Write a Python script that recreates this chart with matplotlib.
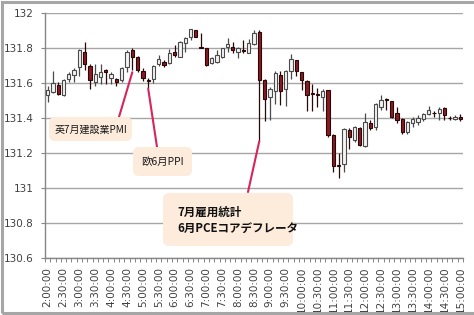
import matplotlib
matplotlib.use("Agg")
import matplotlib.pyplot as plt
from matplotlib.patches import FancyBboxPatch, Rectangle

# 10-minute USD/JPY candles (open, high, low, close)
opens = [131.531, 131.548, 131.588, 131.531, 131.627, 131.646, 131.694, 131.777, 131.700, 131.608,
         131.637, 131.675, 131.633, 131.623, 131.617, 131.694, 131.790, 131.752, 131.671, 131.617,
         131.627, 131.710, 131.723, 131.717, 131.781, 131.752, 131.829, 131.867, 131.902, 131.806,
         131.800, 131.717, 131.723, 131.748, 131.806, 131.810, 131.781, 131.790, 131.775, 131.823,
         131.894, 131.619, 131.523, 131.558, 131.648, 131.567, 131.673, 131.731, 131.663, 131.614,
         131.542, 131.538, 131.521, 131.560, 131.303, 131.132, 131.139, 131.332, 131.278, 131.342,
         131.242, 131.375, 131.352, 131.467, 131.512, 131.498, 131.429, 131.394, 131.323, 131.375,
         131.381, 131.394, 131.425, 131.432, 131.429, 131.458, 131.402, 131.394, 131.410]
highs = [131.583, 131.669, 131.608, 131.625, 131.665, 131.685, 131.794, 131.838, 131.710, 131.708,
         131.708, 131.679, 131.665, 131.633, 131.694, 131.790, 131.800, 131.756, 131.685, 131.633,
         131.704, 131.760, 131.733, 131.794, 131.819, 131.844, 131.867, 131.913, 131.906, 131.887,
         131.804, 131.752, 131.790, 131.804, 131.858, 131.838, 131.810, 131.848, 131.852, 131.906,
         131.904, 131.625, 131.577, 131.673, 131.673, 131.677, 131.769, 131.735, 131.665, 131.619,
         131.598, 131.575, 131.569, 131.563, 131.313, 131.200, 131.342, 131.342, 131.356, 131.348,
         131.429, 131.390, 131.487, 131.531, 131.515, 131.500, 131.463, 131.400, 131.387, 131.410,
         131.419, 131.433, 131.468, 131.444, 131.464, 131.464, 131.414, 131.419, 131.425]
lows = [131.496, 131.546, 131.531, 131.527, 131.608, 131.608, 131.640, 131.675, 131.569, 131.583,
        131.598, 131.598, 131.598, 131.583, 131.608, 131.665, 131.675, 131.665, 131.613, 131.575,
        131.604, 131.700, 131.694, 131.713, 131.752, 131.748, 131.781, 131.848, 131.863, 131.800,
        131.700, 131.710, 131.717, 131.742, 131.781, 131.775, 131.742, 131.771, 131.771, 131.819,
        131.269, 131.385, 131.388, 131.480, 131.477, 131.471, 131.625, 131.644, 131.560, 131.444,
        131.444, 131.463, 131.444, 131.294, 131.091, 131.058, 131.091, 131.226, 131.265, 131.242,
        131.236, 131.332, 131.332, 131.448, 131.448, 131.400, 131.371, 131.313, 131.313, 131.352,
        131.361, 131.386, 131.419, 131.410, 131.390, 131.390, 131.390, 131.390, 131.386]
closes = [131.563, 131.603, 131.537, 131.621, 131.656, 131.675, 131.790, 131.710, 131.621, 131.652,
          131.665, 131.665, 131.656, 131.608, 131.690, 131.781, 131.752, 131.675, 131.633, 131.612,
          131.698, 131.740, 131.704, 131.771, 131.762, 131.838, 131.858, 131.910, 131.867, 131.802,
          131.704, 131.742, 131.762, 131.800, 131.825, 131.790, 131.800, 131.785, 131.829, 131.890,
          131.619, 131.510, 131.567, 131.658, 131.558, 131.673, 131.740, 131.673, 131.617, 131.532,
          131.538, 131.535, 131.556, 131.303, 131.130, 131.128, 131.338, 131.294, 131.352, 131.245,
          131.381, 131.342, 131.483, 131.502, 131.502, 131.410, 131.390, 131.323, 131.381, 131.394,
          131.400, 131.425, 131.448, 131.428, 131.452, 131.419, 131.399, 131.410, 131.394]

time_labels = ["2:00:00", "2:30:00", "3:00:00", "3:30:00", "4:00:00", "4:30:00", "5:00:00",
               "5:30:00", "6:00:00", "6:30:00", "7:00:00", "7:30:00", "8:00:00", "8:30:00",
               "9:00:00", "9:30:00", "10:00:00", "10:30:00", "11:00:00", "11:30:00", "12:00:00",
               "12:30:00", "13:00:00", "13:30:00", "14:00:00", "14:30:00", "15:00:00"]
price_ticks = [130.6, 130.8, 131.0, 131.2, 131.4, 131.6, 131.8, 132.0]
price_labels = ["130.6", "130.8", "131", "131.2", "131.4", "131.6", "131.8", "132"]

W, H = 474, 315
fig = plt.figure(figsize=(W / 100, H / 100), dpi=100)
ax = fig.add_axes([45 / W, 1 - 258.3 / H, (463 - 45) / W, (258.3 - 13.3) / H])

UP_FACE, UP_EDGE = "#f4f4f4", "#4a4a4a"
DN_FACE, DN_EDGE = "#8b1b22", "#2a0808"
body_w = 0.62

n = len(opens)
for i in range(n):
    o, h, l, c = opens[i], highs[i], lows[i], closes[i]
    up = c >= o
    edge = UP_EDGE if up else DN_EDGE
    face = UP_FACE if up else DN_FACE
    ax.vlines(i, l, h, color=edge, lw=0.9, zorder=3)
    bottom = min(o, c)
    height = max(abs(c - o), 0.003)
    ax.bar(i, height, bottom=bottom, width=body_w, color=face,
           edgecolor=edge, linewidth=0.8, zorder=4)

ax.set_xlim(-0.5, n - 0.5)
ax.set_ylim(130.6, 132.0)

ax.set_yticks(price_ticks)
ax.set_yticklabels(price_labels)
ax.set_xticks(range(0, n, 3))
ax.set_xticklabels(time_labels, rotation=90)
ax.set_xticks([k - 0.5 for k in range(n + 1)], minor=True)

ax.tick_params(axis="y", length=3, width=0.8, color="#868686", pad=5,
               labelsize=7.5, labelcolor="#404040")
ax.tick_params(axis="x", which="major", length=0, pad=6,
               labelsize=7.5, labelcolor="#404040")
ax.tick_params(axis="x", which="minor", length=3, width=0.7, color="#868686")
for lab in ax.get_xticklabels() + ax.get_yticklabels():
    lab.set_fontfamily("DejaVu Sans")

ax.yaxis.grid(True, color="#a6a6a6", lw=1.0)
ax.set_axisbelow(True)
for side in ("top", "right"):
    ax.spines[side].set_visible(False)
for side in ("left", "bottom"):
    ax.spines[side].set_color("#868686")
    ax.spines[side].set_linewidth(1.0)

# callouts, placed in figure pixel space (origin top-left)
tr = fig.dpi_scale_trans


def px(x, y):
    return (x / 100, (H - y) / 100)


LINE_C = "#d6245c"
BOX_C = "#fdebdc"
jp = ["Noto Sans CJK JP", "DejaVu Sans"]


def callout_box(x0, y0, x1, y1):
    (a, b), (c, d) = px(x0, y1), px(x1, y0)
    fig.patches.append(FancyBboxPatch((a, b), c - a, d - b,
                                      boxstyle="round,pad=0,rounding_size=0.06",
                                      transform=tr, facecolor=BOX_C,
                                      edgecolor="none", zorder=5))


def connector(idx, price, sx, sy):
    ax.annotate("", xy=(idx, price), xycoords="data",
                xytext=px(sx, sy), textcoords=tr,
                arrowprops=dict(arrowstyle="-", color=LINE_C, lw=1.5,
                                shrinkA=0, shrinkB=0), zorder=6)


connector(16, lows[16] - 0.012, 119, 117)
connector(19, lows[19] - 0.005, 157, 147)
connector(40, lows[40], 248, 192)

callout_box(49, 117, 132, 141)
fig.text(*px(90.5, 129.5), "英7月建設業PMI", transform=tr, ha="center", va="center",
         fontsize=7.2, family=jp, color="#1a1a1a", zorder=7)

callout_box(133, 147, 192, 176)
fig.text(*px(162.5, 161.5), "欧6月PPI", transform=tr, ha="center", va="center",
         fontsize=7.5, family=jp, color="#1a1a1a", zorder=7)

callout_box(163, 193, 293, 246)
fig.text(*px(177, 220), "7月雇用統計\n6月PCEコアデフレータ", transform=tr,
         ha="left", va="center", multialignment="left", linespacing=1.3,
         fontsize=8.3, fontweight="bold", family=jp, color="#111111", zorder=7)

# outer chart frame
fig.patches.append(Rectangle((0.015, 0.02), 5.0, 3.115, transform=tr, fill=False,
                             edgecolor="#a6a6a6", lw=2.2, zorder=10))

fig.savefig("out.png", dpi=100)
